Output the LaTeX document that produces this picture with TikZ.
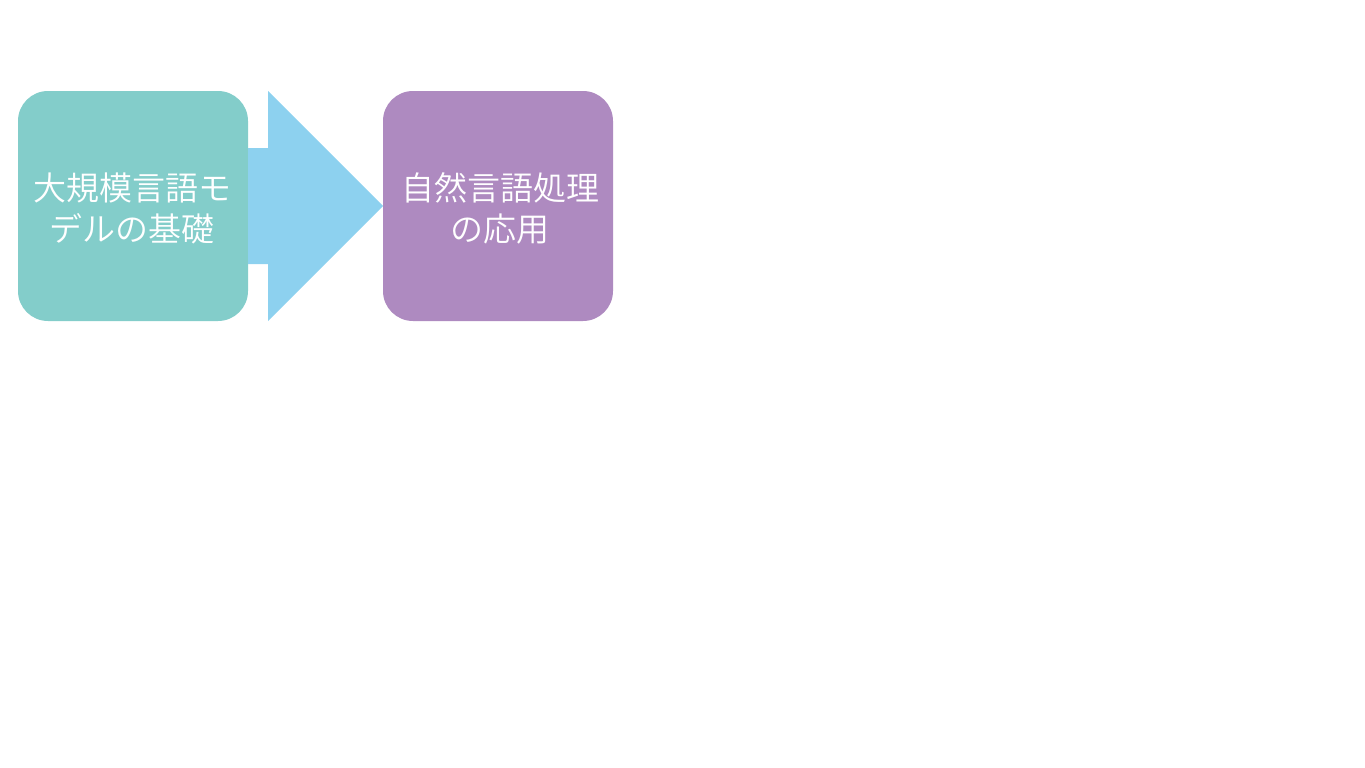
\documentclass[tikz,border=0pt]{standalone}
\usepackage{fontspec}
\newfontfamily\jpfont{Noto Sans CJK JP DemiLight}
\definecolor{tealbox}{HTML}{83CDCA}
\definecolor{purplebox}{HTML}{AE8AC0}
\definecolor{arrowblue}{HTML}{8DD1EF}
\begin{document}
\begin{tikzpicture}[x=1pt,y=-1pt,
  box/.style={text=white, align=center, inner sep=0pt,
    font=\jpfont\fontsize{33}{41}\selectfont}]
\useasboundingbox (0,0) rectangle (1365,768);
\fill[tealbox, rounded corners=30pt] (18,91) rectangle (248,321);
\node[box] (a) at (132,208) {大規模言語モ\\デルの基礎};
\fill[purplebox, rounded corners=30pt] (383,91) rectangle (613,321);
\node[box] (b) at (500,208) {自然言語処理\\の応用};
\fill[arrowblue] (248,148) -- (268,148) -- (268,91) -- (383,206) -- (268,321) -- (268,264) -- (248,264) -- cycle;
\end{tikzpicture}
\end{document}
